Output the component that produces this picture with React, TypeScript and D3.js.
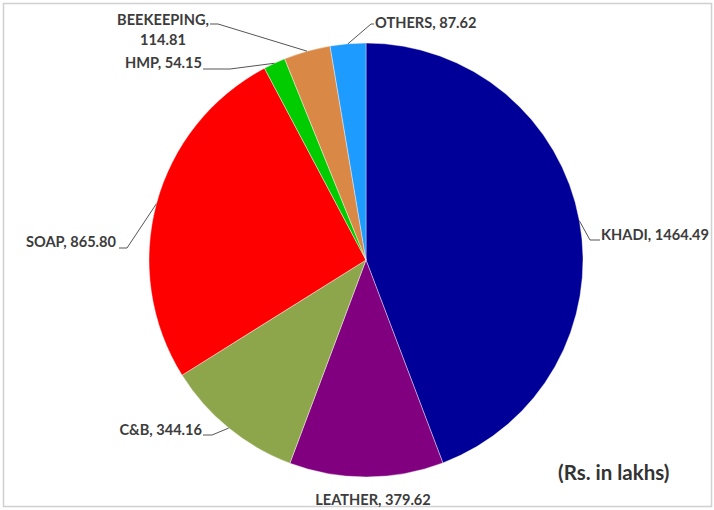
import React from "react";
import * as d3 from "d3";

const categories = ["KHADI", "LEATHER", "C&B", "SOAP", "HMP", "BEEKEEPING", "OTHERS"];
const values = [1464.49, 379.62, 344.16, 865.8, 54.15, 114.81, 87.62];
const colors = ["#000099", "#800080", "#8DA64C", "#FF0000", "#00CC00", "#DA8845", "#1E9BFF"];
const unitLabel = "(Rs. in lakhs)";

// label layout: text lines, anchor, text position, leader elbow points (relative layout only)
const labelLayout: Record<string, { lines: string[]; x: number; y: number; anchor: string; elbow?: [number, number][] }> = {
  KHADI: { lines: ["KHADI, 1464.49"], x: 601, y: 240, anchor: "start", elbow: [[590, 240], [600, 240]] },
  LEATHER: { lines: ["LEATHER, 379.62"], x: 373, y: 505, anchor: "middle" },
  "C&B": { lines: ["C&B, 344.16"], x: 202, y: 435, anchor: "end", elbow: [[212, 435], [203, 435]] },
  SOAP: { lines: ["SOAP, 865.80"], x: 116, y: 247, anchor: "end", elbow: [[127, 248], [119, 248]] },
  HMP: { lines: ["HMP, 54.15"], x: 202, y: 68, anchor: "end", elbow: [[230, 69], [203, 69]] },
  BEEKEEPING: { lines: ["BEEKEEPING,", "114.81"], x: 163, y: 25, anchor: "middle", elbow: [[218, 24], [210, 24]] },
  OTHERS: { lines: ["OTHERS, 87.62"], x: 375, y: 28, anchor: "start", elbow: [[371, 24], [374, 24]] },
};

export default function App() {
  const width = 714;
  const height = 510;
  const cx = 366;
  const cy = 260;
  const r = 217;

  const pie = d3.pie<number>().sort(null).startAngle(0).endAngle(2 * Math.PI);
  const arcs = pie(values);
  const arcGen = d3.arc<d3.PieArcDatum<number>>().innerRadius(0).outerRadius(r);

  const font = "Lato, 'Open Sans', sans-serif";

  return (
    <svg width={width} height={height} style={{ position: "absolute", left: 0, top: 0 }}>
      <rect x={3.5} y={3.5} width={708} height={503} fill="#fff" stroke="#d0d0d0" strokeWidth={1.5} />
      <g transform={`translate(${cx},${cy})`}>
        {arcs.map((a, i) => (
          <path key={categories[i]} d={arcGen(a) || ""} fill={colors[i]} stroke="#fff" strokeWidth={0.4} />
        ))}
      </g>
      {arcs.map((a, i) => {
        const name = categories[i];
        const lay = labelLayout[name];
        const mid = (a.startAngle + a.endAngle) / 2;
        const px = cx + r * Math.sin(mid);
        const py = cy - r * Math.cos(mid);
        let line = null;
        if (lay.elbow) {
          const pts: [number, number][] = [[px, py], ...lay.elbow];
          line = <path d={d3.line()(pts) || ""} fill="none" stroke="#555" strokeWidth={1} />;
        }
        return (
          <g key={name}>
            {line}
            <text
              x={lay.x}
              y={lay.y}
              textAnchor={lay.anchor as any}
              fontFamily={font}
              fontWeight={700}
              fontSize={14.6}
              fill="#3c3c3c"
            >
              {lay.lines.map((l, k) => (
                <tspan key={k} x={lay.x} dy={k === 0 ? 0 : 20}>
                  {l}
                </tspan>
              ))}
            </text>
          </g>
        );
      })}
      <text x={558} y={480} fontFamily={font} fontWeight={700} fontSize={20.5} fill="#333">
        {unitLabel}
      </text>
    </svg>
  );
}
